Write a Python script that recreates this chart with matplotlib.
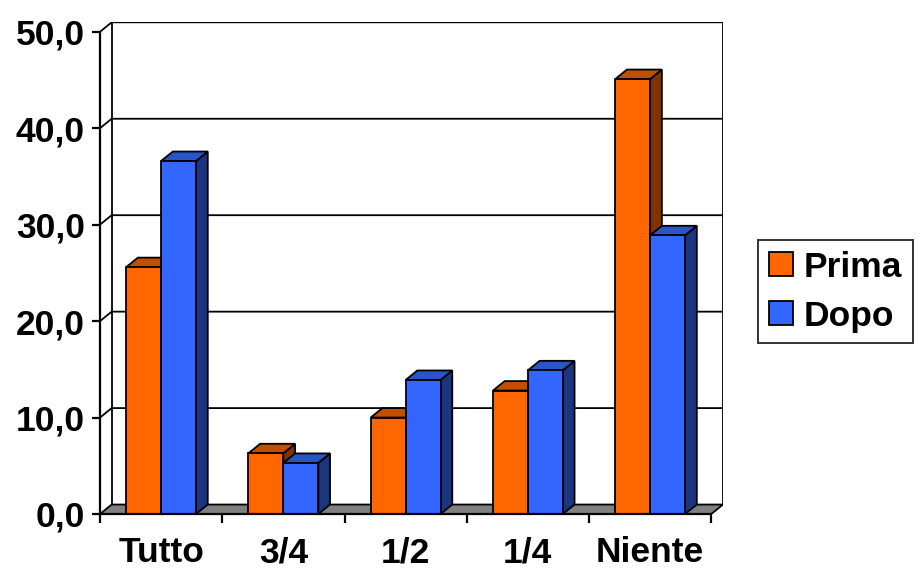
import matplotlib.pyplot as plt
from matplotlib.patches import Polygon, Patch

# data
categories = ["Tutto", "3/4", "1/2", "1/4", "Niente"]
prima = [25.6, 6.3, 10.0, 12.8, 45.1]
dopo = [36.6, 5.3, 13.9, 14.9, 28.9]
series_names = ["Prima", "Dopo"]
y_ticks = [0, 10, 20, 30, 40, 50]

# (front, top, side) shades per series
orange = ("#FF6600", "#C04F00", "#803300")
blue = ("#3366FF", "#2A55C8", "#1C3580")

# fake 3D depth offset, in data units
DX = 0.0956
DY = 0.98
BAR_W = 1 / 3.5
LW = 1.3
FS = 25.5

plt.rcParams['font.family'] = ['Liberation Sans', 'DejaVu Sans']
plt.rcParams['font.weight'] = 'bold'

fig = plt.figure(figsize=(9.2, 5.69), dpi=100)
ax = fig.add_axes([100 / 920, 55 / 569, 623 / 920, 491.7 / 569])
n = len(categories)
ax.set_xlim(-0.5, n - 0.5 + DX)
ax.set_ylim(0, y_ticks[-1] + DY)


def poly(pts, fc, z):
    ax.add_patch(Polygon(pts, closed=True, facecolor=fc, edgecolor="black",
                         linewidth=LW, joinstyle="miter", zorder=z))


def bar3d(x0, h, shades, z):
    front, top, side = shades
    poly([(x0 + BAR_W, 0), (x0 + BAR_W + DX, DY), (x0 + BAR_W + DX, h + DY),
          (x0 + BAR_W, h)], side, z)
    poly([(x0, h), (x0 + BAR_W, h), (x0 + BAR_W + DX, h + DY),
          (x0 + DX, h + DY)], top, z)
    poly([(x0, 0), (x0 + BAR_W, 0), (x0 + BAR_W, h), (x0, h)], front, z)


# walls and floor
left, right, ytop = -0.5, n - 0.5, y_ticks[-1]
poly([(left + DX, DY), (right + DX, DY), (right + DX, ytop + DY),
      (left + DX, ytop + DY)], "white", 1)
poly([(left, 0), (right, 0), (right + DX, DY), (left + DX, DY)], "#808080", 2)
for v in y_ticks[1:]:
    ax.plot([left, left + DX, right + DX], [v, v + DY, v + DY],
            color="black", lw=LW, zorder=1.5, solid_joinstyle="miter")

# bars
for i in range(n):
    bar3d(i - BAR_W, prima[i], orange, 3 + i)
    bar3d(i, dopo[i], blue, 3 + i + 0.5)

# axes
for s in ("top", "right"):
    ax.spines[s].set_visible(False)
ax.spines["left"].set_bounds(0, ytop)
ax.spines["bottom"].set_bounds(left, right)
for s in ("left", "bottom"):
    ax.spines[s].set_linewidth(1.6)
    ax.spines[s].set_zorder(10)

ax.set_yticks(y_ticks)
ax.set_yticklabels([f"{v:.1f}".replace(".", ",") for v in y_ticks])
ax.tick_params(axis="y", direction="out", length=6, width=1.6, pad=5,
               labelsize=FS)
ax.set_xticks([i - 0.5 for i in range(n + 1)])
ax.set_xticklabels([])
ax.set_xticks(range(n), minor=True)
ax.set_xticklabels(categories, minor=True)
ax.tick_params(axis="x", which="major", direction="out", length=6.5, width=1.6)
ax.tick_params(axis="x", which="minor", length=0, pad=16, labelsize=FS)

handles = [Patch(facecolor=orange[0], edgecolor="black", linewidth=LW),
           Patch(facecolor=blue[0], edgecolor="black", linewidth=LW)]
leg = fig.legend(handles, series_names, loc="upper left",
                 bbox_to_anchor=(758 / 920, 1 - 240 / 569),
                 fontsize=FS, frameon=True, fancybox=False,
                 handlelength=0.7, handleheight=0.65, handletextpad=0.3,
                 borderpad=0.3, labelspacing=0.45, borderaxespad=0)
leg.get_frame().set_edgecolor("black")
leg.get_frame().set_linewidth(1.4)

fig.savefig("out.png", dpi=100)
